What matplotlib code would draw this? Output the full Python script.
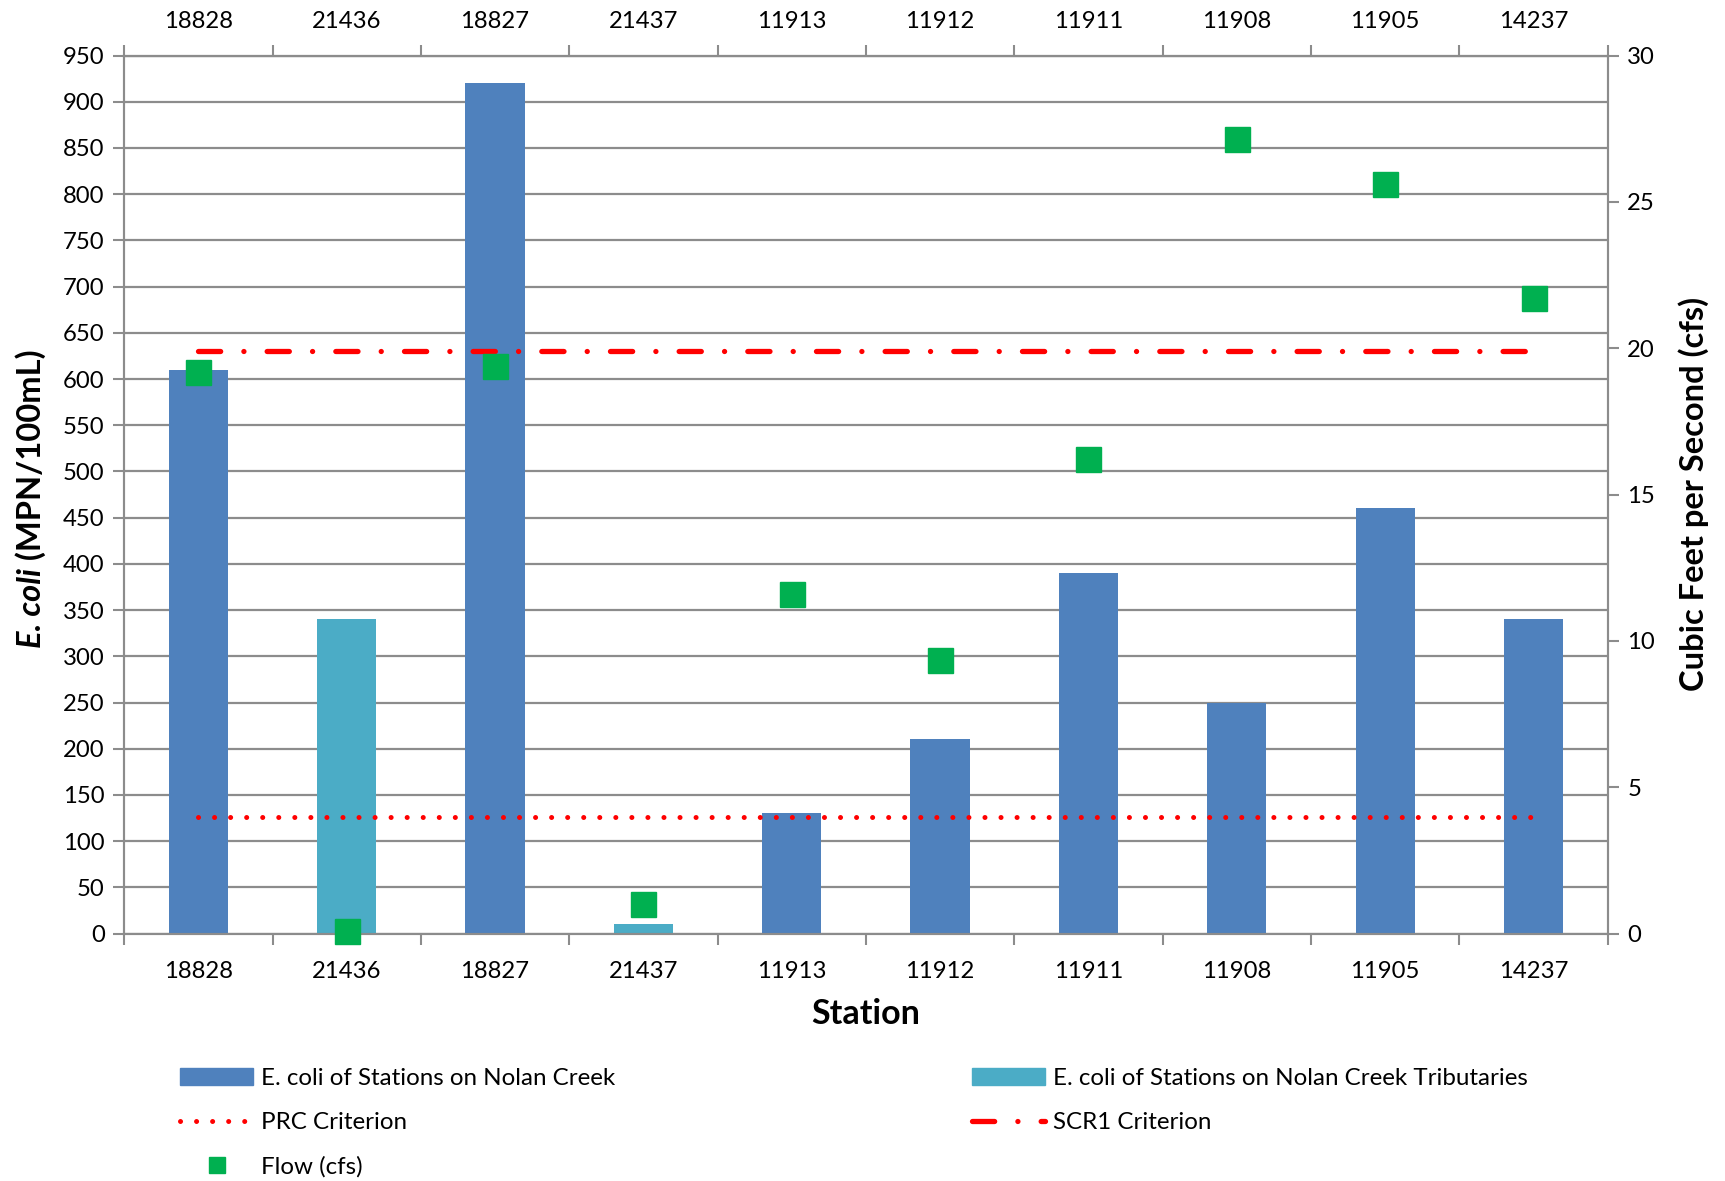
import numpy as np
import matplotlib.pyplot as plt
from matplotlib.patches import Patch
from matplotlib.lines import Line2D

plt.rcParams['font.family'] = ['Lato', 'DejaVu Sans']

stations = ['18828', '21436', '18827', '21437', '11913', '11912', '11911', '11908', '11905', '14237']
ecoli = [610, 340, 920, 10, 130, 210, 390, 250, 460, 340]
tributary = [False, True, False, True, False, False, False, False, False, False]
flow = [19.2, 0.1, 19.4, 1.0, 11.6, 9.35, 16.2, 27.15, 25.6, 21.7]
prc = 126
scr1 = 630

c_main = '#4F81BD'
c_trib = '#4BACC6'
c_flow = '#00B050'
c_red = '#FF0000'
grey = '#8C8C8C'

prc_style = dict(color=c_red, lw=3.6, dash_capstyle='round', dashes=(0.01, 3.2))
scr_style = dict(color=c_red, lw=3.8, dash_capstyle='round', dashes=(4.2, 4.4, 0.01, 4.4))

fig = plt.figure(figsize=(17.25, 11.81), dpi=100)
ax = fig.add_axes([0.072, 0.2095, 0.86, 0.7435])
x = np.arange(len(stations))

cols = [c_trib if t else c_main for t in tributary]
ax.bar(x, ecoli, width=0.4, color=cols, zorder=2)

ax.plot([x[0], x[-1]], [prc, prc], zorder=3, **prc_style)
ax.plot([x[0], x[-1]], [scr1, scr1], zorder=3, **scr_style)

ax.set_xlim(-0.5, len(stations) - 0.5)
ax.set_ylim(0, 950)
ax.set_yticks(np.arange(0, 951, 50))
ax.grid(axis='y', color=grey, lw=1.6)
ax.set_axisbelow(True)

ax.set_xticks(x)
ax.set_xticklabels(stations)
ax.set_xticks(np.arange(-0.5, len(stations), 1), minor=True)
ax.tick_params(axis='x', which='major', length=0, pad=20, labelsize=17.2)
ax.tick_params(axis='x', which='minor', length=8, width=1.5, color=grey)
ax.tick_params(axis='y', length=8, width=1.5, color=grey, labelsize=17.2, pad=6)

for s in ax.spines.values():
    s.set_color(grey)
    s.set_linewidth(1.5)

top = ax.secondary_xaxis('top')
top.set_xticks(x)
top.set_xticklabels(stations)
top.set_xticks(np.arange(-0.5, len(stations), 1), minor=True)
top.tick_params(axis='x', which='major', length=0, pad=17, labelsize=17.2)
top.tick_params(axis='x', which='minor', length=8, width=1.5, color=grey)
top.spines['top'].set_color(grey)
top.spines['top'].set_linewidth(1.5)

ax2 = ax.twinx()
ax2.plot(x, flow, ls='none', marker='s', ms=18, color=c_flow, clip_on=False, zorder=5)
ax2.set_ylim(0, 30)
ax2.set_yticks(np.arange(0, 31, 5))
ax2.tick_params(axis='y', length=8, width=1.5, color=grey, labelsize=17.2, pad=6)
for s in ax2.spines.values():
    s.set_color(grey)
    s.set_linewidth(1.5)

fig.text(0.502, 0.1415, 'Station', ha='center', va='center', fontsize=24.5, fontweight='bold')

t1 = fig.text(0.018, 0.451, 'E. coli', rotation=90, ha='center', va='bottom',
              fontsize=23.5, fontweight='bold', fontstyle='italic')
ax.annotate(' (MPN/100mL)', xy=(0.5, 1.0), xycoords=t1, rotation=90, ha='center', va='bottom',
            fontsize=23.5, fontweight='bold')
fig.text(0.982, 0.5815, 'Cubic Feet per Second (cfs)', rotation=90, ha='center', va='center',
         fontsize=23.5, fontweight='bold')

h1 = [Patch(color=c_main),
      Line2D([], [], **prc_style),
      Line2D([], [], ls='none', marker='s', ms=12, color=c_flow)]
l1 = ['E. coli of Stations on Nolan Creek', 'PRC Criterion', 'Flow (cfs)']
h2 = [Patch(color=c_trib),
      Line2D([], [], **scr_style)]
l2 = ['E. coli of Stations on Nolan Creek Tributaries', 'SCR1 Criterion']

leg_kw = dict(loc='upper left', frameon=False, fontsize=17.4, handlelength=3.0,
              handleheight=0.7, labelspacing=0.95, handletextpad=0.35)
fig.legend(h1, l1, bbox_to_anchor=(0.092, 0.114), **leg_kw)
fig.legend(h2, l2, bbox_to_anchor=(0.551, 0.114), **leg_kw)

fig.savefig('out.png', dpi=100)
